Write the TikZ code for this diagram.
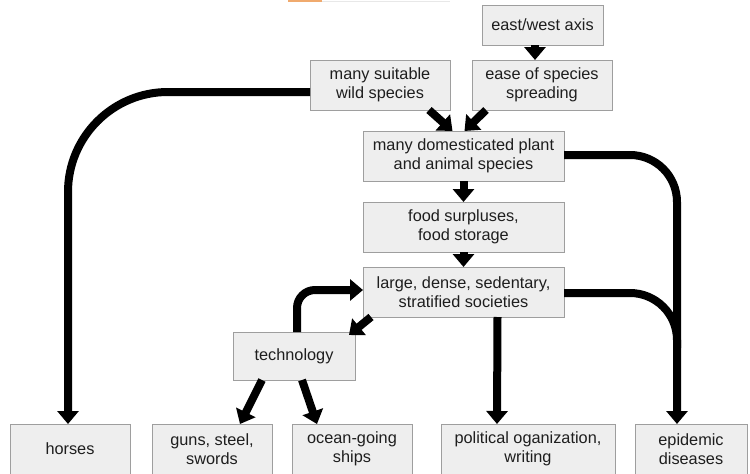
\documentclass[tikz,border=0pt]{standalone}
\usepackage{fontspec}
\setmainfont{Liberation Sans}
\usetikzlibrary{arrows.meta}
\definecolor{boxfill}{HTML}{EEEEEE}
\definecolor{boxline}{HTML}{9E9E9E}
\definecolor{txt}{HTML}{1E1E1E}
\begin{document}
\begin{tikzpicture}[x=1pt,y=-1pt,
  box/.style={draw=boxline,fill=boxfill,line width=1pt,inner sep=0pt,outer sep=0pt,
    align=center,text=txt,font=\fontsize{16.3}{18.5}\selectfont},
  conn/.style={line width=8pt,draw=black},
  arr/.style={conn,-{Triangle[length=13pt,width=21pt]}}]
\useasboundingbox (0,0) rectangle (750,474);
% faint artefacts at top
\draw[line width=1.5pt,draw={rgb,255:red,240;green,170;blue,110}] (288,1) -- (322,1);
\draw[line width=1pt,draw={rgb,255:red,232;green,232;blue,232}] (322,1) -- (450,1);
% boxes
\node[box,minimum width=121pt,minimum height=40pt] (axis) at (542.5,25) {east/west axis};
\node[box,minimum width=140pt,minimum height=50pt] (wild) at (380,85) {many suitable\\wild species};
\node[box,minimum width=140pt,minimum height=50pt] (ease) at (542,85) {ease of species\\spreading};
\node[box,minimum width=201pt,minimum height=50pt] (dom) at (463.5,156) {many domesticated plant\\and animal species};
\node[box,minimum width=201pt,minimum height=50pt] (food) at (463.5,227) {food surpluses,\\food storage};
\node[box,minimum width=201pt,minimum height=50pt] (soc) at (463.5,292) {large, dense, sedentary,\\stratified societies};
\node[box,minimum width=122pt,minimum height=48pt] (tech) at (294,356) {technology};
\node[box,minimum width=120pt,minimum height=50pt] (horses) at (70,449) {horses};
\node[box,minimum width=120pt,minimum height=50pt] (guns) at (212,449) {guns, steel,\\swords};
\node[box,minimum width=120pt,minimum height=50pt] (ocean) at (352,449) {ocean-going\\ships};
\node[box,minimum width=174pt,minimum height=50pt] (pol) at (528,449) {political oganization,\\writing};
\node[box,minimum width=112pt,minimum height=50pt] (epi) at (691,449) {epidemic\\diseases};
\coordinate (join) at (677,348);
% connectors
\draw[arr] ([xshift=-7.5pt]axis.south) -- ([xshift=-7pt]ease.north);
\draw[arr] ([xshift=-21pt]wild.south east) -- ([xshift=-11pt]dom.north);
\draw[arr] ([xshift=14pt]ease.south west) -- ([xshift=1pt]dom.north);
\draw[arr,rounded corners=100pt] ([yshift=-7pt]wild.west) -| ([xshift=-2pt]horses.north);
\draw[arr] (dom.south) -- (food.north);
\draw[arr] (food.south) -- (soc.north);
\draw[arr,rounded corners=47pt] ([yshift=1pt]dom.east) -| ([xshift=-14pt]epi.north);
\draw[conn,rounded corners=47pt] ([yshift=-1pt]soc.east) -| (join);
\draw[arr] ([xshift=34pt]soc.south) -- ([xshift=-31pt]pol.north);
\draw[arr] ([xshift=8pt]soc.south west) -- ([xshift=-6pt,yshift=-3pt]tech.north east);
\draw[arr,rounded corners=18pt] ([xshift=3pt]tech.north) |- ([yshift=2pt]soc.west);
\draw[arr] ([xshift=-32pt]tech.south) -- ([xshift=28pt]guns.north);
\draw[arr] ([xshift=8pt]tech.south) -- ([xshift=-35pt]ocean.north);
\end{tikzpicture}
\end{document}
